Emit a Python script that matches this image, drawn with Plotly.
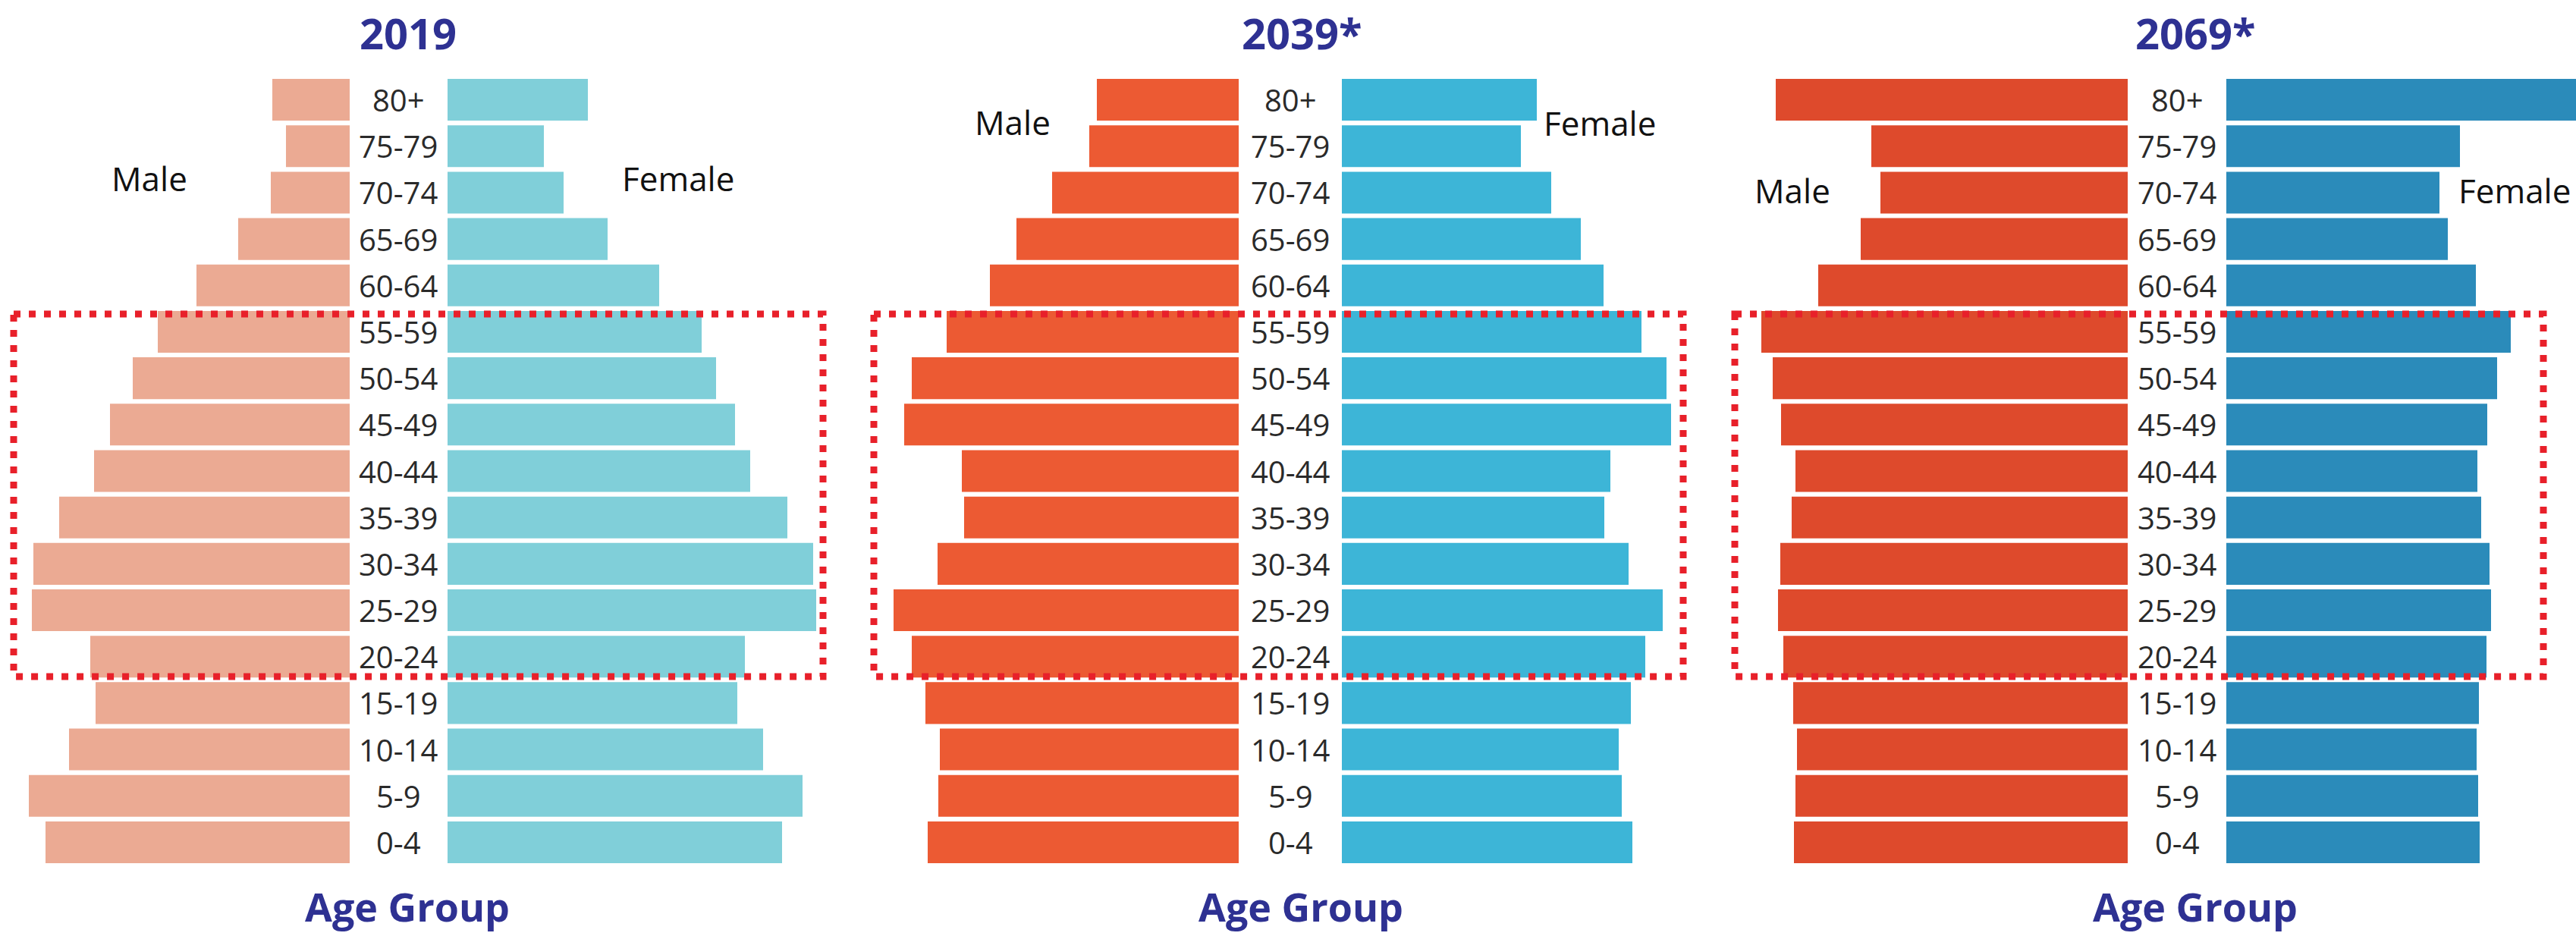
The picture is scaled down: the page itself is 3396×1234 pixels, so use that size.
import plotly.graph_objects as go

W_FIG, H_FIG = 3396, 1234

ages = ['80+', '75-79', '70-74', '65-69', '60-64', '55-59', '50-54', '45-49',
        '40-44', '35-39', '30-34', '25-29', '20-24', '15-19', '10-14', '5-9', '0-4']

titles = ['2019', '2039*', '2069*']

# bar lengths (relative units), listed top (80+) to bottom (0-4)
male_2019 = [102, 84, 104, 147, 202, 253, 286, 316, 337, 383, 417, 419, 342, 335, 370, 423, 401]
female_2019 = [185, 127, 153, 211, 279, 335, 354, 379, 399, 448, 482, 486, 392, 382, 416, 468, 441]
male_2039 = [187, 197, 246, 293, 328, 385, 431, 441, 365, 362, 397, 455, 431, 413, 394, 396, 410]
female_2039 = [257, 236, 276, 315, 345, 395, 428, 434, 354, 346, 378, 423, 400, 381, 365, 369, 383]
male_2069 = [464, 338, 326, 352, 408, 483, 468, 457, 438, 443, 458, 461, 454, 441, 436, 438, 440]
female_2069 = [500, 308, 281, 292, 329, 375, 357, 344, 331, 336, 347, 349, 343, 333, 330, 332, 334]

males = [male_2019, male_2039, male_2069]
females = [female_2019, female_2039, female_2069]

male_colors = ['#EBAA93', '#EC5A33', '#DE4A2C']
female_colors = ['#80CFD9', '#3DB5D7', '#2B8BBA']

# layout (pixels)
male_right = [461, 1633, 2805]
female_left = [590, 1769, 2935]
male_span = [455, 500, 500]
female_span = [500, 500, 461]
label_cx = [525, 1701, 2870]
title_cx = [538, 1716, 2894]
agegroup_cx = [537, 1715, 2894]
male_lbl = [(197, 235), (1335, 161), (2363, 251)]
female_lbl = [(894, 235), (2109, 162), (3391, 251)]
rect_x = [(18, 1085), (1152, 2219), (2287, 3353)]


def px(x):
    return x / W_FIG


def py(y):
    return (H_FIG - y) / H_FIG


fig = go.Figure()
layout = dict(
    width=W_FIG, height=H_FIG, margin=dict(l=0, r=0, t=0, b=0),
    paper_bgcolor='white', plot_bgcolor='white', showlegend=False,
    bargap=0.1,
    yaxis=dict(domain=[py(1141), py(101)], type='category', categoryorder='array',
               categoryarray=ages, range=[16.5, -0.5], visible=False, fixedrange=True),
)

annotations = []
shapes = []
for i in range(3):
    mx = 'x%d' % (2 * i + 1)
    fx = 'x%d' % (2 * i + 2)
    mkey = 'xaxis' if i == 0 else 'xaxis%d' % (2 * i + 1)
    fkey = 'xaxis%d' % (2 * i + 2)
    layout[mkey] = dict(domain=[px(male_right[i] - male_span[i]), px(male_right[i])],
                        range=[male_span[i], 0], visible=False, anchor='y', fixedrange=True)
    layout[fkey] = dict(domain=[px(female_left[i]), px(female_left[i] + female_span[i])],
                        range=[0, female_span[i]], visible=False, anchor='y', fixedrange=True)
    fig.add_trace(go.Bar(y=ages, x=males[i], orientation='h', xaxis=mx, yaxis='y',
                         marker=dict(color=male_colors[i], line=dict(width=0)),
                         hoverinfo='x+y', name='Male'))
    fig.add_trace(go.Bar(y=ages, x=females[i], orientation='h', xaxis=fx, yaxis='y',
                         marker=dict(color=female_colors[i], line=dict(width=0)),
                         hoverinfo='x+y', name='Female'))
    for a in ages:
        annotations.append(dict(x=px(label_cx[i]), xref='paper', y=a, yref='y',
                                text=a, showarrow=False, xanchor='center', yanchor='middle',
                                font=dict(family='Open Sans', size=40, color='#2a2a2a')))
    annotations.append(dict(x=px(title_cx[i]), xref='paper', y=py(43), yref='paper',
                            text='<b>%s</b>' % titles[i], showarrow=False,
                            xanchor='center', yanchor='middle',
                            font=dict(family='Open Sans', size=56, color='#2E3192')))
    annotations.append(dict(x=px(agegroup_cx[i]), xref='paper', y=py(1232), yref='paper',
                            text='<b>Age Group</b>', showarrow=False,
                            xanchor='center', yanchor='bottom',
                            font=dict(family='Open Sans', size=52, color='#2E3192')))
    annotations.append(dict(x=px(male_lbl[i][0]), xref='paper', y=py(male_lbl[i][1]), yref='paper',
                            text='Male', showarrow=False, xanchor='center', yanchor='middle',
                            font=dict(family='Open Sans', size=44, color='#111111')))
    annotations.append(dict(x=px(female_lbl[i][0]), xref='paper', y=py(female_lbl[i][1]), yref='paper',
                            text='Female', showarrow=False,
                            xanchor='right' if i == 2 else 'center', yanchor='middle',
                            font=dict(family='Open Sans', size=44, color='#111111')))
    shapes.append(dict(type='rect', xref='paper', yref='y',
                       x0=px(rect_x[i][0]), x1=px(rect_x[i][1]),
                       y0=ages.index('55-59') - 0.385, y1=ages.index('20-24') + 0.43,
                       line=dict(color='#E8202A', width=9, dash='9px,11px'),
                       fillcolor='rgba(0,0,0,0)', layer='above'))

layout['annotations'] = annotations
layout['shapes'] = shapes
fig.update_layout(**layout)

fig.write_html("out.html", config={'displayModeBar': False},
               post_script="document.body.style.margin='0';document.body.style.overflow='hidden';")
